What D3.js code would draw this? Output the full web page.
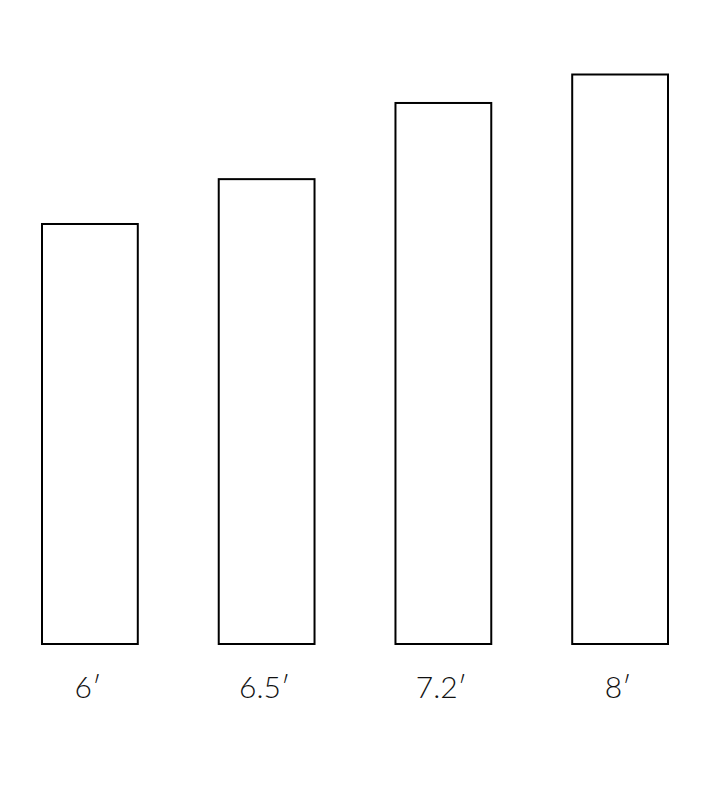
<!DOCTYPE html>
<html>
<head>
<meta charset="utf-8">
<script src="https://cdn.jsdelivr.net/npm/d3@7"></script>
<style>
  body { margin: 0; background: #fff; }
  text { font-family: "Lato", "Open Sans", sans-serif; font-weight: 300; }
</style>
</head>
<body>
<div id="chart"></div>
<script>
"use strict";

const width = 707,
      height = 786;

// labels under the bars, and bar heights
const labels = ["6′", "6.5′", "7.2′", "8′"];
const values = [5.9, 6.53, 7.6, 8];

const x = d3.scaleBand()
  .domain(labels)
  .range([42, 668])
  .paddingInner(0.458)
  .paddingOuter(0);

const y = d3.scaleLinear()
  .domain([0, 8])
  .range([644, 74.5]);

const svg = d3.select("#chart")
  .append("svg")
  .attr("width", width)
  .attr("height", height);

svg.selectAll("rect")
  .data(values)
  .join("rect")
    .attr("x", (d, i) => x(labels[i]))
    .attr("y", d => y(d))
    .attr("width", x.bandwidth())
    .attr("height", d => y(0) - y(d))
    .attr("fill", "#fff")
    .attr("stroke", "#000")
    .attr("stroke-width", 2);

svg.selectAll("text.label")
  .data(labels)
  .join("text")
    .attr("class", "label")
    .attr("x", d => x(d) + x.bandwidth() / 2 - 2)
    .attr("y", 698)
    .attr("text-anchor", "middle")
    .attr("font-size", 30)
    .attr("fill", "#111")
    .text(d => d);
</script>
</body>
</html>
